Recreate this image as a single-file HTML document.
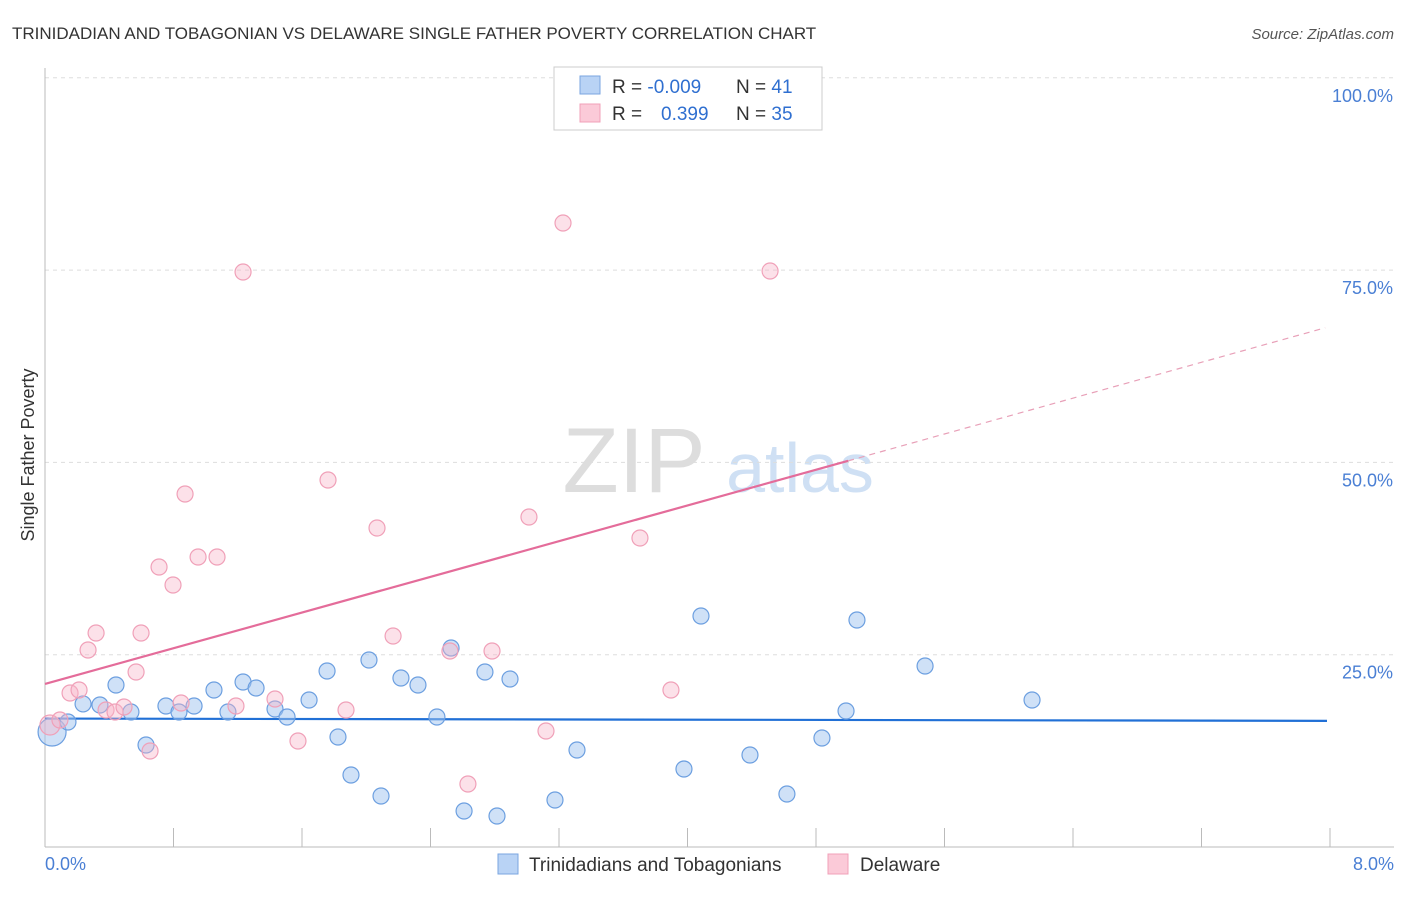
<!DOCTYPE html>
<html><head><meta charset="utf-8"><style>
body{margin:0;background:#fff;font-family:"Liberation Sans",sans-serif}
svg text{font-family:"Liberation Sans",sans-serif}
</style></head><body>
<svg width="1406" height="892" viewBox="0 0 1406 892" xmlns="http://www.w3.org/2000/svg">
<text x="12" y="39" font-size="17" fill="#333">TRINIDADIAN AND TOBAGONIAN VS DELAWARE SINGLE FATHER POVERTY CORRELATION CHART</text>
<text x="1394" y="39" font-size="15" fill="#555" font-style="italic" text-anchor="end">Source: ZipAtlas.com</text>
<g>
<text x="634" y="492" font-size="92" fill="#ddd" font-family="Liberation Serif" text-anchor="middle">ZIP</text>
<text x="800" y="492" font-size="70" fill="#cfe0f4" text-anchor="middle">atlas</text>
</g>
<g id="grid"></g><g id="axes"></g><g id="lines"></g><g id="pts"></g>
<text transform="translate(34,455) rotate(-90)" font-size="18" fill="#333" text-anchor="middle">Single Father Poverty</text>
<text x="45" y="870" font-size="18" fill="#4a7fd4">0.0%</text>
<text x="1394" y="870" font-size="18" fill="#4a7fd4" text-anchor="end">8.0%</text>
<g>
<rect x="554" y="67" width="268" height="63" fill="#fff" stroke="#ccc"/>
<rect x="580" y="76" width="20" height="18" fill="#b9d3f5" stroke="#7aa6e0"/>
<rect x="580" y="104" width="20" height="18" fill="#fbcad8" stroke="#f0a0b8"/>
<text x="612" y="93" font-size="19" fill="#333">R = <tspan fill="#2f6fd0">-0.009</tspan></text>
<text x="736" y="93" font-size="19" fill="#333">N = <tspan fill="#2f6fd0">41</tspan></text>
<text x="612" y="120" font-size="19" fill="#333">R = <tspan fill="#2f6fd0" x="661">0.399</tspan></text>
<text x="736" y="120" font-size="19" fill="#333">N = <tspan fill="#2f6fd0">35</tspan></text>
</g>
<g>
<rect x="498" y="854" width="20" height="20" fill="#b9d3f5" stroke="#7aa6e0"/>
<text x="529" y="871" font-size="19" fill="#333">Trinidadians and Tobagonians</text>
<rect x="828" y="854" width="20" height="20" fill="#fbcad8" stroke="#f0a0b8"/>
<text x="860" y="871" font-size="19" fill="#333">Delaware</text>
</g>
</svg>
<script>
const blueX=[0.044,0.143,0.237,0.342,0.442,0.535,0.629,0.753,0.834,0.928,1.052,1.139,1.233,1.314,1.432,1.507,1.644,1.756,1.824,1.905,2.017,2.092,2.216,2.322,2.44,2.528,2.609,2.739,2.814,2.895,3.175,3.312,3.978,4.084,4.389,4.619,4.837,4.987,5.055,5.479,6.145];
const blueY=[14.95,16.25,18.6,18.46,21.06,17.55,13.26,18.33,17.55,18.33,20.41,17.55,21.45,20.67,17.94,16.9,19.11,22.88,14.3,9.36,24.31,6.63,21.97,21.06,16.9,25.87,4.68,22.75,4.03,21.84,6.11,12.61,10.14,30.03,11.96,6.89,14.17,17.68,29.51,23.53,19.11];
const pinkX=[0.031,0.093,0.156,0.212,0.268,0.318,0.38,0.436,0.492,0.567,0.598,0.654,0.71,0.797,0.847,0.872,0.953,1.071,1.189,1.233,1.432,1.575,1.762,1.874,2.067,2.167,2.521,2.633,2.783,3.013,3.119,3.225,3.704,3.897,4.514];
const pinkY=[15.86,16.51,20.02,20.41,25.61,27.82,17.81,17.55,18.2,22.75,27.82,12.48,36.4,34.06,18.72,45.89,37.7,37.7,18.33,74.75,19.24,13.78,47.71,17.81,41.47,27.43,25.48,8.19,25.48,42.9,15.08,81.12,40.17,20.41,74.88];
const yTicks=[25,50,75,100];
const yTickLabels=["25.0%","50.0%","75.0%","100.0%"];
const blueTrend=[[0,16.7],[8,16.4]];
const pinkTrend=[[0,21.2],[5.0,50.2],[7.97,67.5]];
const NS="http://www.w3.org/2000/svg";
const sx=v=>45+v/8*1285, sy=v=>847-v*7.692;
function mk(tag,at,parent){const e=document.createElementNS(NS,tag);for(const k in at)e.setAttribute(k,at[k]);parent.appendChild(e);return e;}
const grid=document.getElementById('grid'),axes=document.getElementById('axes'),lines=document.getElementById('lines'),pts=document.getElementById('pts');
yTicks.forEach((t,i)=>{
 const l=mk('line',{x1:45,x2:1394,y1:sy(t),y2:sy(t),stroke:'#ddd','stroke-dasharray':'4,4'},grid);
 
 
 const tx=mk('text',{x:1393,y:sy(t)+24,'font-size':18,fill:'#4a7fd4','text-anchor':'end'},grid);
 tx.textContent=yTickLabels[i];
 
 
});
const ya=mk('line',{x1:45,x2:45,y1:68,y2:847,stroke:'#bbb'},axes);


const xa=mk('line',{x1:45,x2:1394,y1:847,y2:847,stroke:'#bbb'},axes);


for(let i=0;i<=10;i++){const tk=mk('line',{x1:sx(i*0.8),x2:sx(i*0.8),y1:828,y2:847,stroke:'#bbb'},axes);
 
 }
blueX.forEach((x,i)=>{const c=mk('circle',{cx:sx(x),cy:sy(blueY[i]),r:i===0?14:8,fill:'rgba(160,196,240,0.5)',stroke:'#6c9fe0','stroke-width':1.2},pts);
 
 });
pinkX.forEach((x,i)=>{const c=mk('circle',{cx:sx(x),cy:sy(pinkY[i]),r:i===0?10:8,fill:'rgba(248,180,200,0.4)',stroke:'#f0a0b8','stroke-width':1.2},pts);
 
 });
const bl=mk('line',{x1:sx(blueTrend[0][0]),y1:sy(blueTrend[0][1]),x2:sx(blueTrend[1][0])-3,y2:sy(blueTrend[1][1]),stroke:'#2170d6','stroke-width':2.2},lines);


const pl=mk('line',{x1:sx(pinkTrend[0][0]),y1:sy(pinkTrend[0][1]),x2:sx(pinkTrend[1][0]),y2:sy(pinkTrend[1][1]),stroke:'#e46c9a','stroke-width':2.2},lines);


const pd=mk('line',{x1:sx(pinkTrend[1][0]),y1:sy(pinkTrend[1][1]),x2:sx(pinkTrend[2][0]),y2:sy(pinkTrend[2][1]),stroke:'#e8a0b8','stroke-width':1.2,'stroke-dasharray':'6,5'},lines);


</script>
</body></html>
